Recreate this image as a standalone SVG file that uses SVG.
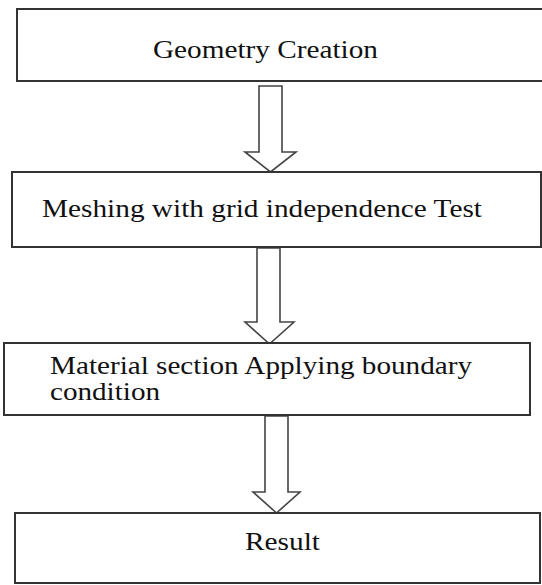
<svg xmlns="http://www.w3.org/2000/svg" width="542" height="585" viewBox="0 0 542 585">
<style>
.box{fill:#fff;stroke:#333;stroke-width:2}
.arr{fill:#fff;stroke:#444;stroke-width:1.6;stroke-linejoin:miter}
.t{font-family:'Liberation Serif','Times New Roman',serif;font-size:25px;fill:#111}
</style>
<rect width="542" height="585" fill="#fff"/>
<g id="connectors">
<path class="arr" d="M259,86 H282 V152 H296 L270.5,172 L245,152 H259 Z"/>
<path class="arr" d="M257,248 H280 V322 H294 L269.5,344 L245,322 H257 Z"/>
<path class="arr" d="M265,416 H288 V492 H300 L276.5,513 L253,492 H265 Z"/>
</g>
<g id="node1">
<rect class="box" x="17" y="9" width="535" height="72"/>
<text class="t" x="153" y="58" textLength="225" lengthAdjust="spacingAndGlyphs">Geometry Creation</text>
</g>
<g id="node2">
<rect class="box" x="12" y="172" width="529" height="75"/>
<text class="t" x="42" y="217" textLength="440" lengthAdjust="spacingAndGlyphs">Meshing with grid independence Test</text>
</g>
<g id="node3">
<rect class="box" x="4" y="343" width="526" height="72"/>
<text class="t" x="50" y="374" textLength="422" lengthAdjust="spacingAndGlyphs">Material section Applying boundary</text>
<text class="t" x="50" y="400" textLength="110" lengthAdjust="spacingAndGlyphs">condition</text>
</g>
<g id="node4">
<rect class="box" x="15" y="513" width="525" height="70"/>
<text class="t" x="245" y="550" textLength="75" lengthAdjust="spacingAndGlyphs">Result</text>
</g>
</svg>
